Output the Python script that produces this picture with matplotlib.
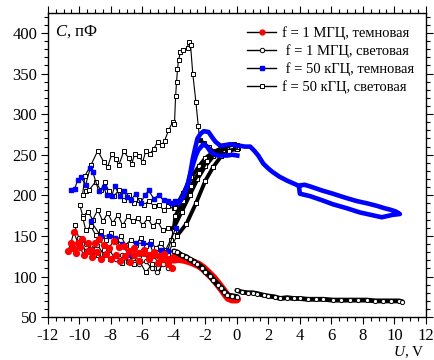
# C-V curves, 1 MHz and 50 kHz, dark and light
import matplotlib.pyplot as plt
from matplotlib.lines import Line2D
from matplotlib.ticker import MultipleLocator

plt.rcParams['font.family'] = ['Liberation Serif', 'DejaVu Serif']
plt.rcParams['mathtext.fontset'] = 'custom'
plt.rcParams['mathtext.rm'] = 'Liberation Serif'
plt.rcParams['mathtext.it'] = 'Liberation Serif:italic'
plt.rcParams['axes.unicode_minus'] = False

# ---- f = 1 MHz, dark (red) ----
red1_u = [-10.73, -10.54, -10.35, -10.09, -9.85, -9.46, -9.27, -9.02, -8.77, -8.45, -8.13, -7.82,
          -7.5, -7.18, -6.87, -6.55, -6.23, -5.92, -5.6, -5.28, -4.97, -4.65, -4.34, -4.02]
red1_c = [132, 141, 155, 141, 146, 141, 133, 141, 146, 139, 135, 144,
          136, 138, 131, 135, 129, 133, 127, 130, 125, 128, 122, 125]
red2_u = [-10.41, -10.22, -9.97, -9.72, -9.46, -9.2, -8.9, -8.6, -8.3, -8.0, -7.7, -7.4,
          -7.1, -6.8, -6.5, -6.2, -5.9, -5.6, -5.3, -5.0, -4.7, -4.4, -4.1]
red2_c = [135, 129, 137, 126, 131, 124, 130, 122, 128, 121, 127, 119,
          125, 118, 126, 119, 129, 121, 126, 117, 122, 115, 111]
red_band_u = [-4.0, -3.7, -3.39, -3.0, -2.75, -2.4, -2.12, -1.8, -1.49, -1.2, -0.92, -0.7, -0.54, -0.3, 0.0]
red_band_c = [121, 122, 121, 119, 117, 114, 110, 104, 98, 91, 84, 78, 74, 72, 72]

# ---- f = 1 MHz, light (black circles) ----
circ1_u = [-10.0, -9.6, -9.2, -8.85, -8.45, -8.1, -7.7, -7.3, -6.9, -6.6, -6.2, -5.8,
           -5.4, -5.05, -4.7, -4.35, -4.0]
circ1_c = [148, 140, 132, 139, 127, 133, 121, 127, 118, 123, 115, 119,
           110, 105, 115, 111, 121]
circ_band1_u = [-4.0, -3.8, -3.5, -3.2, -3.0, -2.7, -2.5, -2.2, -2.0, -1.7, -1.5, -1.2, -1.0, -0.8, -0.6, -0.3, 0.0]
circ_band1_c = [131, 130, 126, 124, 121, 118, 115, 111, 106, 101, 96, 90, 86, 81, 77, 76, 75]
circ_band2_u = [0.0, 0.3, 0.7, 1.0, 1.3, 1.7, 2.0, 2.4, 2.75, 3.2, 3.6, 4.0, 4.5, 5.0, 5.5,
                6.1, 6.6, 7.2, 7.7, 8.25, 8.8, 9.3, 9.8, 10.3, 10.5]
circ_band2_c = [83, 81, 80, 80, 79, 77, 76, 75, 73, 74, 73, 73, 72, 72, 72,
                71, 71, 71, 71, 71, 70, 70, 70, 70, 69]

# ---- f = 50 kHz, dark (blue) ----
blue1_u = [-10.5, -10.3, -10.1, -9.9, -9.6, -9.3, -9.15, -8.77, -8.45, -8.26, -7.94, -7.75,
           -7.45, -7.18, -6.95, -6.74, -6.42, -6.11, -5.85, -5.6, -5.28, -4.97, -4.65,
           -4.4, -4.21, -3.95]
blue1_c = [206, 208, 219, 222, 213, 234, 229, 205, 210, 200, 199, 212,
           199, 205, 198, 194, 202, 190, 200, 206, 196, 200, 194,
           193, 190, 193]
blue2_u = [-9.27, -8.64, -8.13, -7.75, -7.3, -6.87, -6.4, -5.98, -5.5, -5.28, -4.84, -4.4, -3.89]
blue2_c = [168, 150, 150, 147, 140, 127, 141, 141, 140, 126, 133, 132, 160]
blue_up_u = [-3.95, -3.58, -3.35, -3.13, -2.95, -2.8, -2.65, -2.5, -2.3, -2.1, -1.8, -1.55, -1.36,
             -1.04, -0.7, -0.41, 0.0, 0.22, 0.5, 0.85, 1.1, 1.36, 1.68, 2.0, 2.25, 2.7, 3.2,
             3.9, 4.3, 4.65, 5.4, 6.1, 6.9, 7.6, 8.3, 8.9, 9.4, 9.8, 10.1, 10.35,
             9.9, 9.2, 8.5, 7.8, 7.0, 6.1, 5.4, 4.65, 4.0, 3.95]
blue_up_c = [190, 193, 200, 212, 228, 245, 258, 270, 276, 279, 278, 271, 266,
             261, 262, 263, 261, 261, 260, 260, 255, 249, 239, 233, 229, 223, 218,
             212, 213, 211, 206, 202, 197, 193, 190, 187, 184, 182, 180, 177,
             176, 173, 176, 179, 184, 189, 194, 199, 202, 210]
blue_lo_u = [-3.7, -3.39, -3.07, -2.9, -2.75, -2.6, -2.44, -2.12, -1.9, -1.68, -1.45, -1.23,
             -0.9, -0.6, -0.3, 0.03]
blue_lo_c = [190, 200, 217, 230, 240, 249, 256, 263, 260, 254, 251, 249, 249, 249, 250, 249]

# ---- f = 50 kHz, light (black squares) ----
sqA_u = [-9.59, -9.4, -8.96, -8.64, -8.39, -8.13, -7.82, -7.5, -7.18, -6.87, -6.55, -6.23,
         -5.92, -5.6, -5.28, -4.97, -4.65, -4.34, -4.02,
         -3.9, -3.4, -2.9, -2.4, -2.0, -1.5, -1.0, -0.4, 0.0]
sqA_c = [205, 206, 217, 206, 217, 205, 199, 206, 194, 201, 190, 194,
         188, 193, 187, 188, 182, 187, 184,
         185, 203, 222, 236, 246, 253, 258, 261, 262]
sqB_u = [-9.97, -9.78, -9.46, -9.15, -8.83, -8.51, -8.2, -7.88, -7.56, -7.25, -6.93, -6.61,
         -6.3, -5.98, -5.66, -5.35, -5.03, -4.71, -4.4, -4.08,
         -4.0, -3.5, -3.0, -2.5, -2.0, -1.5, -1.0, -0.5, 0.0]
sqB_c = [188, 174, 180, 170, 182, 168, 178, 166, 176, 163, 174, 168,
         172, 163, 172, 162, 168, 157, 160, 160,
         160, 180, 200, 220, 236, 248, 255, 259, 260]
sqC_u = [-9.78, -9.59, -9.27, -8.96, -8.64, -8.32, -8.01, -7.69, -7.37, -7.06, -6.74, -6.42,
         -6.11, -5.79, -5.47, -5.16, -4.84, -4.52, -4.21, -4.02,
         -3.9, -3.4, -2.9, -2.4, -1.9, -1.4, -0.9, -0.4, 0.1]
sqC_c = [172, 157, 162, 151, 156, 145, 154, 144, 150, 139, 145, 139,
         148, 138, 144, 135, 141, 133, 145, 156,
         175, 193, 212, 228, 242, 251, 257, 260, 258]
sqD_u = [-10.3, -9.97, -9.59, -9.2, -8.83, -8.45, -8.07, -7.69, -7.31, -6.93, -6.55, -6.17,
         -5.79, -5.4, -5.03, -4.71, -4.4, -4.08,
         -3.8, -3.2, -2.6, -2.0, -1.5, -1.0, -0.5, 0.0]
sqD_c = [163, 144, 132, 139, 127, 133, 121, 127, 117, 123, 115, 119,
         105, 115, 111, 121, 128, 140,
         150, 165, 190, 218, 235, 248, 255, 257]
sqE_u = [-9.8, -9.65, -9.27, -8.83, -8.45, -8.2, -7.94, -7.69, -7.5, -7.18, -6.87, -6.68,
         -6.49, -6.23, -5.98, -5.79, -5.54, -5.28, -5.03, -4.78, -4.59, -4.34, -4.08, -3.96,
         -3.89, -3.83, -3.77, -3.7, -3.58, -3.39, -3.13, -3.07, -2.94, -2.8, -2.6, -2.45,
         -2.35, -2.1, -1.8, -1.5, -1.23, -0.9, -0.6, -0.2, 0.0]
sqE_c = [200, 224, 237, 255, 241, 235, 251, 245, 237, 254, 246, 238,
         251, 249, 241, 254, 251, 257, 266, 262, 267, 280, 290, 288,
         322, 339, 355, 367, 376, 379, 382, 389, 385, 350, 315, 285,
         268, 264, 259, 254, 251, 256, 260, 263, 260]

labels = ['f = 1 МГЦ, темновая', ' f = 1 МГЦ, световая',
          ' f = 50 кГЦ, темновая', 'f = 50 кГЦ, световая']

fig = plt.figure(figsize=(4.35, 3.6), dpi=100)
ax = fig.add_axes([0.110, 0.119, 0.869, 0.846])

sq_style = dict(color='k', lw=0.8, marker='s', ms=3.2, mfc='white', mec='k', mew=0.7)
# light 50 kHz sweeps: thin line on the left, bundle thicker
for u, c in [(sqA_u, sqA_c), (sqB_u, sqB_c), (sqC_u, sqC_c), (sqD_u, sqD_c)]:
    ax.plot(u, c, **sq_style)
    k = next(i for i, v in enumerate(u) if v > -4.05)
    ax.plot(u[k:], c[k:], color='k', lw=2.8, solid_capstyle='round')
    ax.plot(u[k:], c[k:], ls='none', marker='s', ms=3.2, mfc='white', mec='k', mew=0.7)
ax.plot(sqE_u, sqE_c, **sq_style)
ax.plot(sqE_u[-9:], sqE_c[-9:], color='k', lw=2.8)

# 1 MHz light, left part
ax.plot(circ1_u, circ1_c, color='k', lw=0.8, marker='o', ms=3.2, mfc='white', mec='k', mew=0.7)

# blue dark 50 kHz
bl_style = dict(color='k', lw=0.8, marker='s', ms=3.2, mfc='blue', mec='blue')
ax.plot(blue1_u, blue1_c, **bl_style)
ax.plot(blue2_u, blue2_c, **bl_style)
ax.plot(blue_up_u, blue_up_c, color='blue', lw=3.3, solid_joinstyle='round')
ax.plot(blue_lo_u, blue_lo_c, color='blue', lw=3.3, solid_joinstyle='round')

# red dark 1 MHz
rd_style = dict(color='k', lw=0.8, marker='o', ms=4.2, mfc='red', mec='red')
ax.plot(red1_u, red1_c, **rd_style)
ax.plot(red2_u, red2_c, **rd_style)
ax.plot(red_band_u, red_band_c, color='red', lw=6, solid_capstyle='round')

# 1 MHz light dense band
ax.plot(circ_band1_u, circ_band1_c, color='k', lw=4, solid_capstyle='round')
ax.plot(circ_band1_u, circ_band1_c, ls='none', marker='o', ms=3.2, mfc='white', mec='k', mew=0.7)
ax.plot(circ_band2_u, circ_band2_c, color='k', lw=3.5, solid_capstyle='round')
ax.plot(circ_band2_u, circ_band2_c, ls='none', marker='o', ms=3, mfc='white', mec='k', mew=0.7)

ax.set_xlim(-12, 12)
ax.set_ylim(50, 425)
ax.xaxis.set_major_locator(MultipleLocator(2))
ax.xaxis.set_minor_locator(MultipleLocator(0.5))
ax.yaxis.set_major_locator(MultipleLocator(50))
ax.yaxis.set_minor_locator(MultipleLocator(10))
ax.tick_params(which='both', direction='out', top=True, right=True, labelsize=12, width=0.8)
ax.tick_params(which='major', length=5, pad=2.5)
ax.tick_params(which='minor', length=3)
for s in ax.spines.values():
    s.set_linewidth(1.0)

ax.text(0.019, 0.937, '$C$, пФ', transform=ax.transAxes, fontsize=12, va='center')
fig.text(0.975, 0.0, '$U$, V', ha='right', va='bottom', fontsize=11)

handles = [
    Line2D([], [], color='k', lw=1, marker='o', ms=3.5, mfc='red', mec='red'),
    Line2D([], [], color='k', lw=1, marker='o', ms=3.2, mfc='white', mec='k', mew=0.7),
    Line2D([], [], color='k', lw=1, marker='s', ms=3, mfc='blue', mec='blue'),
    Line2D([], [], color='k', lw=1, marker='s', ms=3.2, mfc='white', mec='k', mew=0.7),
]
ax.legend(handles, labels, loc='upper right', bbox_to_anchor=(0.985, 0.975), frameon=False,
          fontsize=10.5, handlelength=2.0, handletextpad=0.4, labelspacing=0.3, borderaxespad=0)

fig.savefig('out.png', dpi=100)
